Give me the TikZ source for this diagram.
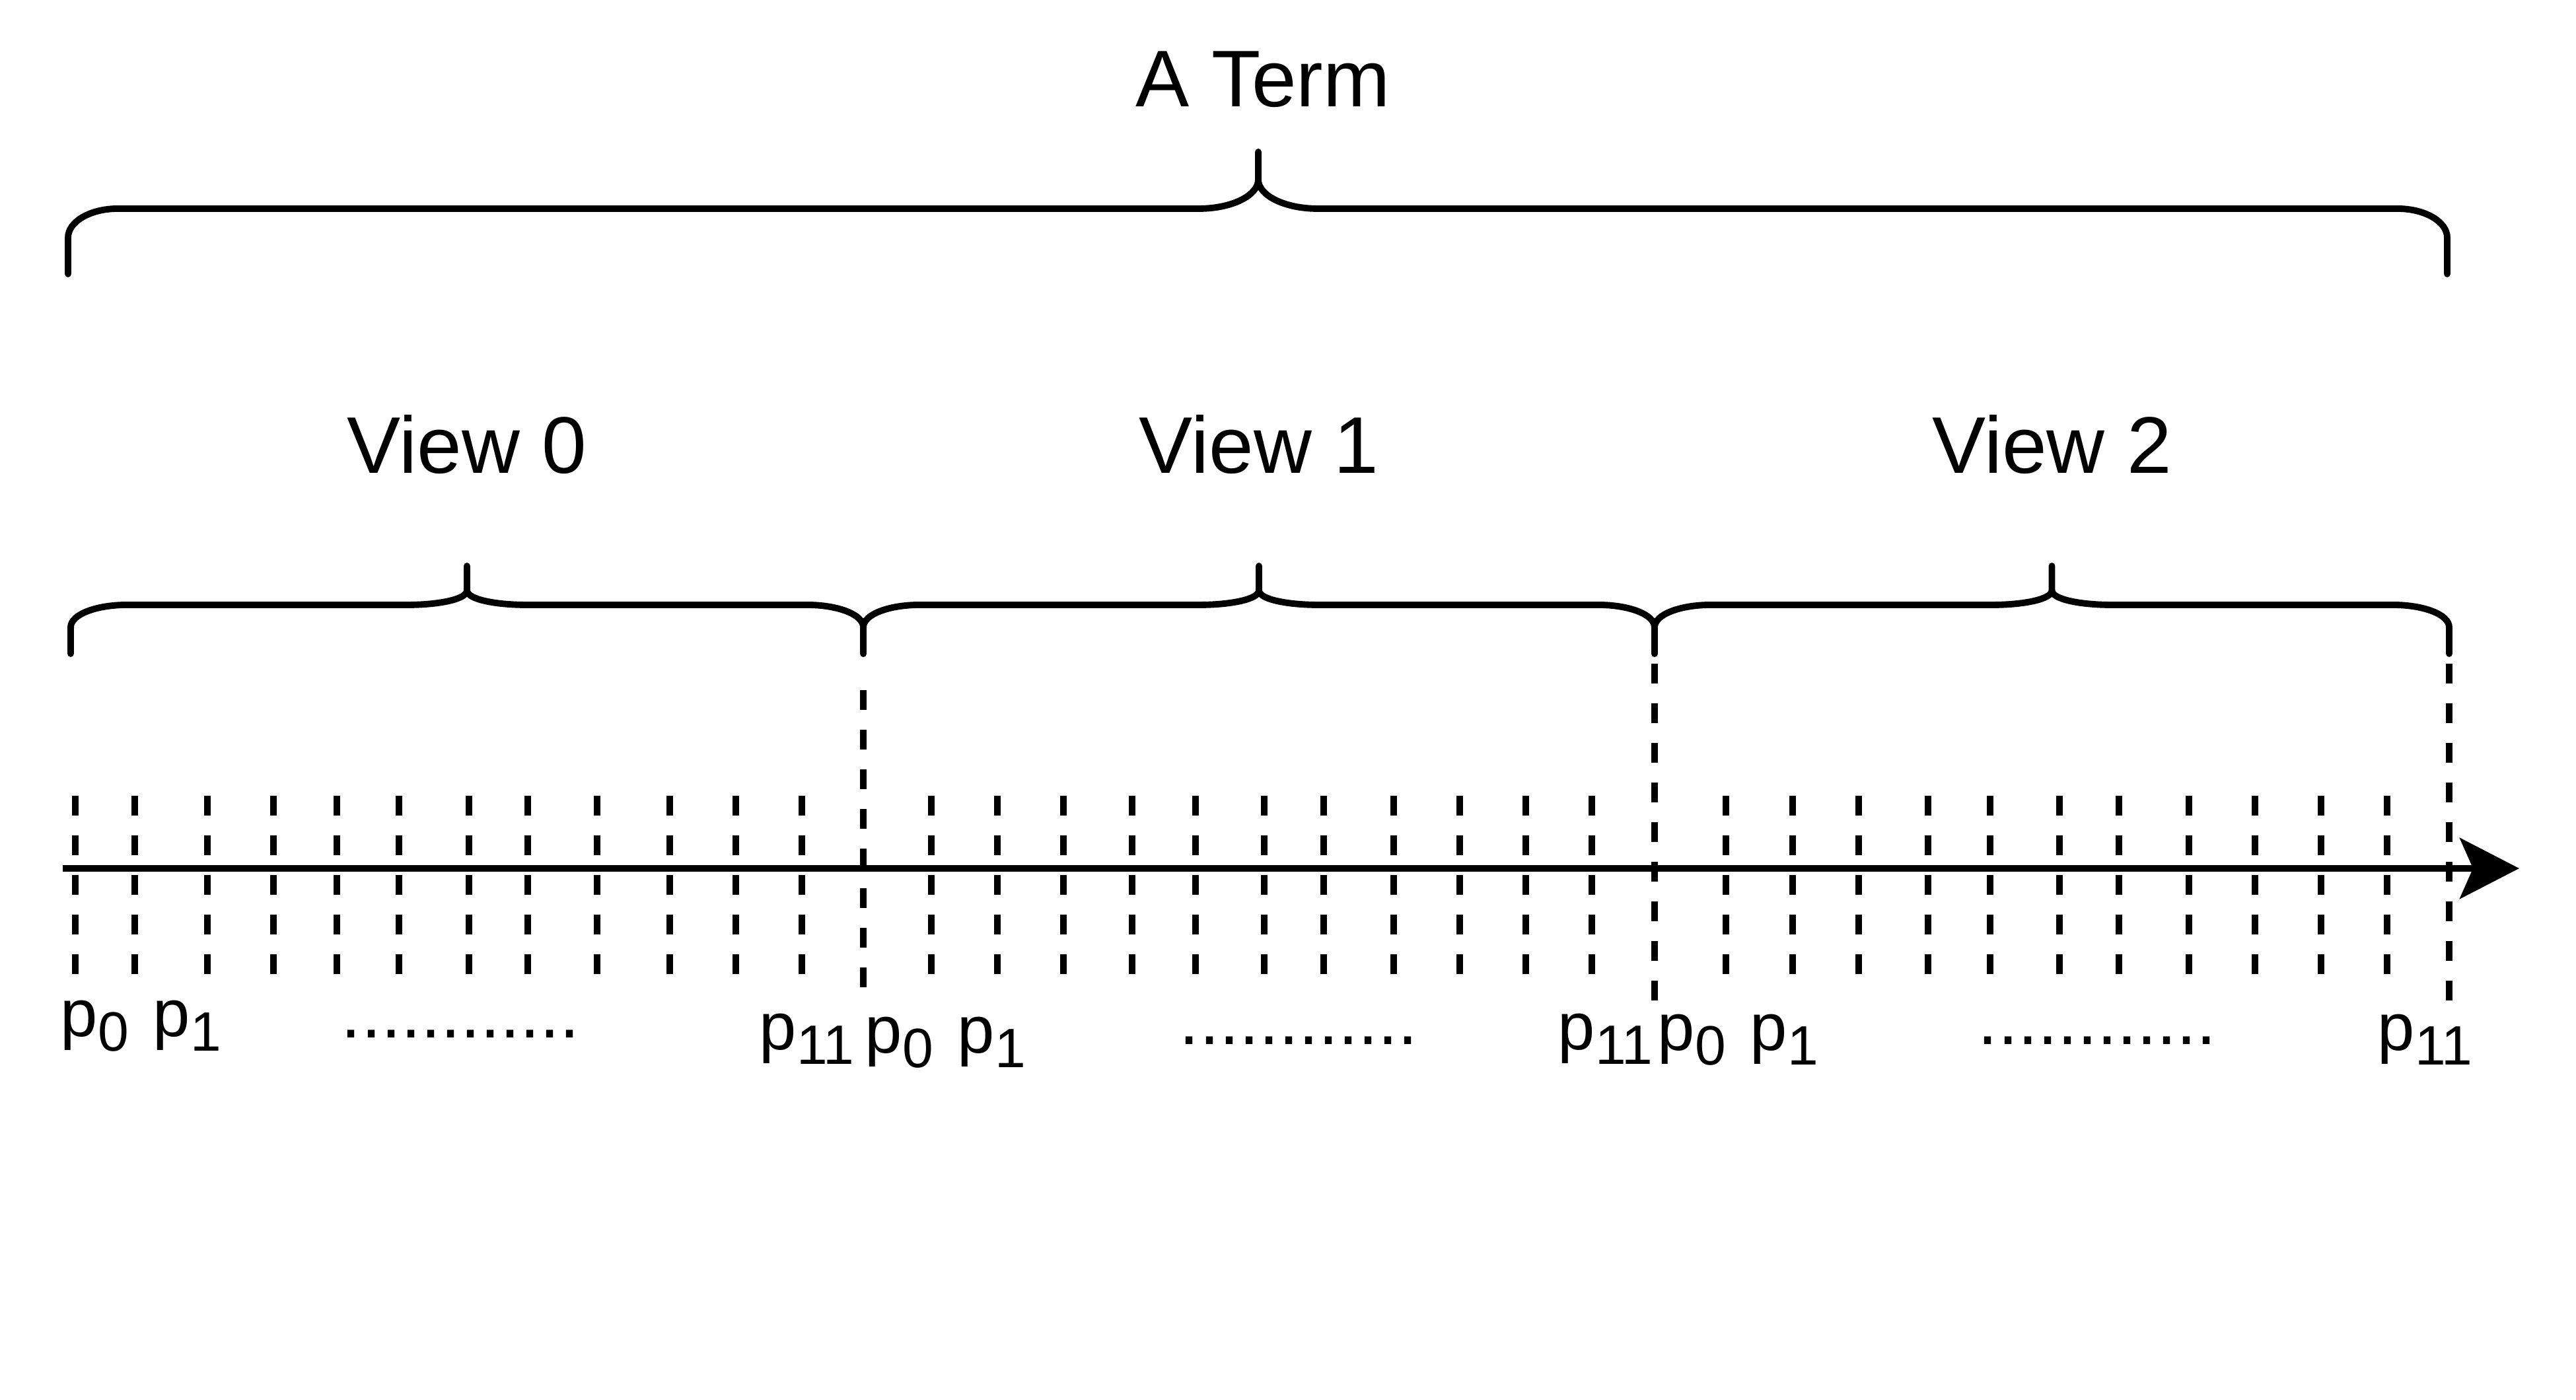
\documentclass[tikz,border=0pt]{standalone}
\usepackage{fontspec}
\setmainfont{Liberation Sans}
\usetikzlibrary{arrows.meta}
\newcommand{\ptlabel}[1]{p\raisebox{-3pt}{\fontsize{11.95pt}{14pt}\selectfont #1}}

\begin{document}
\begin{tikzpicture}[x=0.5cm, y=0.5cm, line width=1.4pt,
  big/.style={font=\fontsize{17.3pt}{20pt}\selectfont, inner sep=0pt, anchor=base},
  lbl/.style={font=\fontsize{14.4pt}{17pt}\selectfont, inner sep=0pt, anchor=base west},
  dots/.style={font=\fontsize{15.4pt}{17pt}\selectfont, inner sep=0pt, anchor=base west},
  tick/.style={dash pattern=on 4.27pt off 4.27pt},
  curly/.style={line cap=round}]
\useasboundingbox (0,0) rectangle (39,21.2);

% the term
\node[big] (term) at (19.12,19.58) {A Term};
\draw[curly] (1.03,17.05) -- (1.03,17.60) .. controls (1.03,17.85) and (1.38,18.04) .. (1.78,18.04)
  -- (18.15,18.04) .. controls (18.65,18.04) and (19.05,18.24) .. (19.05,18.48) -- (19.05,18.90);
\draw[curly] (19.05,18.48) .. controls (19.05,18.24) and (19.45,18.04) .. (19.95,18.04)
  -- (36.30,18.04) .. controls (36.70,18.04) and (37.05,17.85) .. (37.05,17.60) -- (37.05,17.05);

% the views
\foreach \l/\r/\n in {1.07/13.07/0, 13.07/25.05/1, 25.05/37.08/2}{
  \pgfmathsetmacro\m{(\l+\r)/2}
  \draw[curly] (\l,11.30) -- (\l,11.70) .. controls (\l,11.90) and (\l+0.40,12.04) .. (\l+0.85,12.04)
    -- (\m-0.9,12.04) .. controls (\m-0.45,12.04) and (\m,12.12) .. (\m,12.26) -- (\m,12.63);
  \draw[curly] (\m,12.26) .. controls (\m,12.12) and (\m+0.45,12.04) .. (\m+0.9,12.04)
    -- (\r-0.85,12.04) .. controls (\r-0.40,12.04) and (\r,11.90) .. (\r,11.70) -- (\r,11.30);
  \node[big] (view\n) at (\m,14.03) {View \n};
}
\draw[tick] (13.07,10.75) -- (13.07,6.25);
\foreach \x in {25.05,37.08}{
  \draw[tick] (\x,11.15) -- (\x,6.05);
}

% time axis
\foreach \x in {1.14,2.04,3.14,4.14,5.10,6.04,7.10,7.99,9.04,10.14,11.14,12.14,
  14.10,15.10,16.10,17.14,18.10,19.14,20.04,21.10,22.10,23.10,24.10,
  26.13,27.14,28.14,29.19,30.13,31.18,32.08,33.14,34.14,35.14,36.14}{
  \draw[tick] (\x,9.15) -- (\x,6.45);
}
\coordinate (tstart) at (0.95,8.05);
\coordinate (tend) at (38.14,8.05);
\draw[-{Stealth[length=12.8pt,width=13.1pt,inset=2.85pt]}] (tstart) -- (tend);

% points
\node[lbl] (a0) at (0.87,5.50) {\ptlabel{0}};
\node[lbl] (a1) at (2.27,5.50) {\ptlabel{1}};
\node[dots] (adots) at (5.12,5.48) {............};
\node[lbl] (a11) at (11.45,5.30) {\ptlabel{11}};
\node[lbl] (b0) at (13.05,5.25) {\ptlabel{0}};
\node[lbl] (b1) at (14.45,5.25) {\ptlabel{1}};
\node[dots] (bdots) at (17.81,5.38) {............};
\node[lbl] (b11) at (23.54,5.30) {\ptlabel{11}};
\node[lbl] (c0) at (25.05,5.29) {\ptlabel{0}};
\node[lbl] (c1) at (26.45,5.29) {\ptlabel{1}};
\node[dots] (cdots) at (29.90,5.38) {............};
\node[lbl] (c11) at (35.95,5.29) {\ptlabel{11}};
\end{tikzpicture}
\end{document}
